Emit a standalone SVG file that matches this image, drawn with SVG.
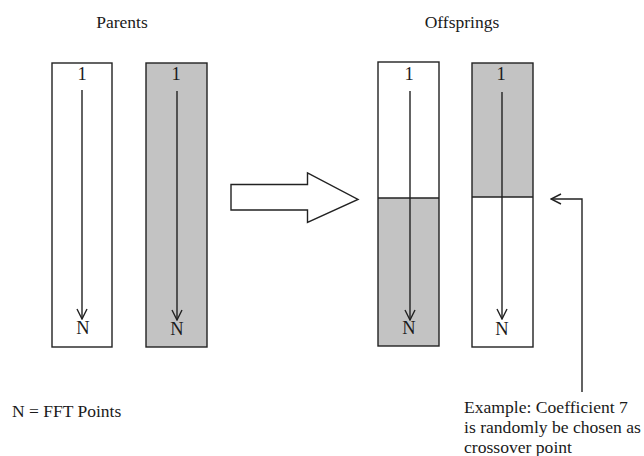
<svg xmlns="http://www.w3.org/2000/svg" width="644" height="456" viewBox="0 0 644 456">
<defs>
<style>
text{font-family:"Liberation Serif","Times New Roman",serif;fill:#1a1a1a}
.t{font-size:17.5px;text-anchor:middle}
.lab{font-size:18.5px;text-anchor:middle}
.box{stroke:#222;stroke-width:1.4}
.w{fill:#fff}
.g{fill:#c3c3c3}
.ln{stroke:#222;stroke-width:1.4;fill:none}
</style>
<marker id="ah" viewBox="0 0 12 12" refX="11" refY="6" markerWidth="12" markerHeight="12" markerUnits="userSpaceOnUse" orient="auto">
<path d="M1,1 L11,6 L1,11" fill="none" stroke="#222" stroke-width="1.4"/>
</marker>
</defs>
<rect width="644" height="456" fill="#fff"/>
<text class="t" x="122" y="28">Parents</text>
<text class="t" x="462" y="28">Offsprings</text>
<g id="parent1">
<rect class="box w" x="52" y="63" width="60" height="284"/>
<text class="lab" x="82" y="80">1</text>
<text class="lab" x="83" y="334">N</text>
</g>
<g id="parent2">
<rect class="box g" x="146" y="63" width="61" height="284"/>
<text class="lab" x="176" y="80">1</text>
<text class="lab" x="177" y="335">N</text>
</g>
<g id="offspring1">
<rect class="w" x="378" y="62" width="61" height="136"/>
<rect class="g" x="378" y="198" width="61" height="148"/>
<rect class="box" x="378" y="62" width="61" height="284" fill="none"/>
<line class="ln" x1="378" y1="198" x2="439" y2="198"/>
<text class="lab" x="409" y="80">1</text>
<text class="lab" x="409" y="334">N</text>
</g>
<g id="offspring2">
<rect class="g" x="472" y="63" width="61" height="134"/>
<rect class="w" x="472" y="197" width="61" height="150"/>
<rect class="box" x="472" y="63" width="61" height="284" fill="none"/>
<line class="ln" x1="472" y1="197" x2="533" y2="197"/>
<text class="lab" x="501" y="80">1</text>
<text class="lab" x="502" y="335">N</text>
</g>
<g id="bigarrow">
<path class="box w" d="M231,184.5 L307.5,184.5 L307.5,173 L358,199.5 L307.5,222.5 L307.5,210 L231,210 Z"/>
</g>
<g id="connectors">
<line class="ln" x1="82" y1="90" x2="82" y2="319" marker-end="url(#ah)"/>
<line class="ln" x1="177" y1="91" x2="177" y2="320" marker-end="url(#ah)"/>
<line class="ln" x1="410" y1="91" x2="410" y2="320" marker-end="url(#ah)"/>
<line class="ln" x1="502" y1="92" x2="502" y2="319" marker-end="url(#ah)"/>
<path class="ln" d="M582,392 L582,199 L551,199" marker-end="url(#ah)"/>
</g>
<text x="12" y="417" style="font-size:17.5px">N = FFT Points</text>
<g style="font-size:17.6px">
<text x="464" y="413">Example: Coefficient 7</text>
<text x="464" y="433">is randomly be chosen as</text>
<text x="464" y="453">crossover point</text>
</g>
</svg>
